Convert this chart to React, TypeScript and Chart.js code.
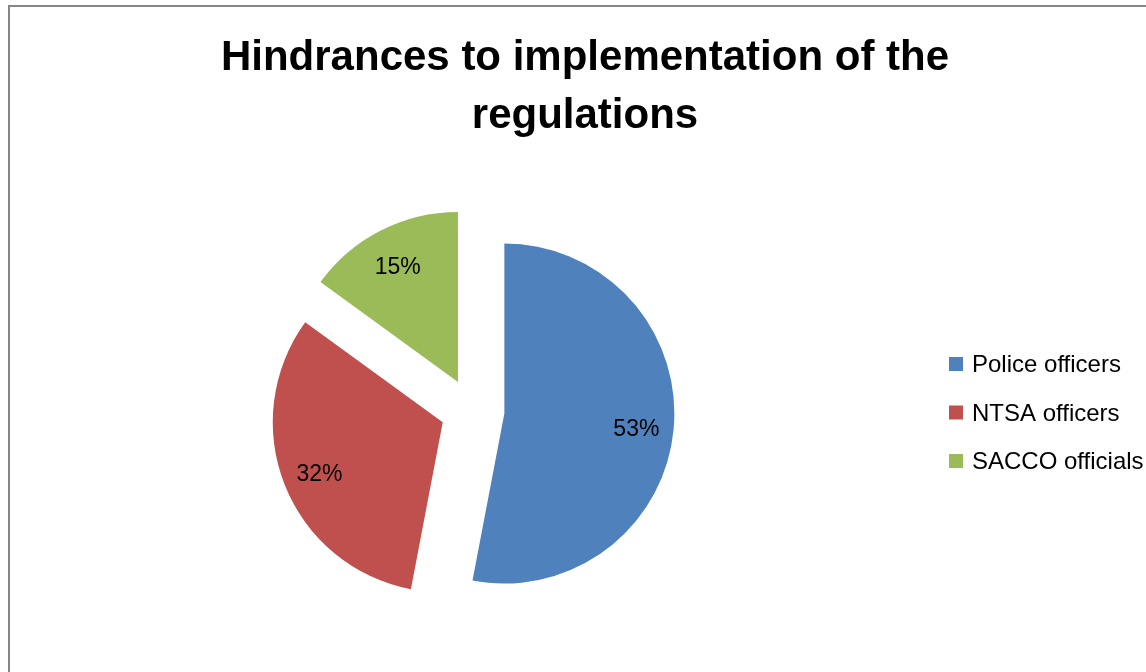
import React, { useEffect, useRef } from "react";
import { Chart, registerables } from "chart.js";

Chart.register(...registerables);

const titleLines = ["Hindrances to implementation of the", "regulations"];
const categories = ["Police officers", "NTSA officers", "SACCO officials"];
const shares = [53, 32, 15];
const sliceColors = ["#4F81BD", "#C0504D", "#9BBB59"];

const EXPLODE = 32;
const FONT = "'Liberation Sans', Arial, sans-serif";

// Explode every slice outward along its own mid angle (Excel-style exploded pie)
const explodePlugin = {
  id: "explode",
  afterDatasetsUpdate(chart: any) {
    const meta = chart.getDatasetMeta(0);
    meta.data.forEach((arc: any) => {
      const mid = (arc.startAngle + arc.endAngle) / 2;
      arc.x += Math.cos(mid) * EXPLODE;
      arc.y += Math.sin(mid) * EXPLODE;
    });
  },
};

const overlayPlugin = {
  id: "overlay",
  afterDraw(chart: any) {
    const ctx = chart.ctx as CanvasRenderingContext2D;
    const meta = chart.getDatasetMeta(0);
    const total = shares.reduce((a, b) => a + b, 0);
    ctx.save();
    // data labels
    ctx.fillStyle = "#000";
    ctx.font = `23px ${FONT}`;
    ctx.textAlign = "center";
    ctx.textBaseline = "middle";
    meta.data.forEach((arc: any, i: number) => {
      const mid = (arc.startAngle + arc.endAngle) / 2;
      const d = arc.outerRadius * 0.78;
      const lx = arc.x + Math.cos(mid) * d;
      const ly = arc.y + Math.sin(mid) * d + 4;
      ctx.fillText(Math.round((shares[i] / total) * 100) + "%", lx, ly);
    });
    // title
    ctx.font = `bold 42px ${FONT}`;
    ctx.textBaseline = "alphabetic";
    ctx.textAlign = "center";
    titleLines.forEach((t, i) => ctx.fillText(t, 585, 70 + i * 58));
    // legend
    ctx.font = `24px ${FONT}`;
    ctx.textAlign = "left";
    ctx.textBaseline = "alphabetic";
    categories.forEach((c, i) => {
      const y = 357 + i * 48.5;
      ctx.fillStyle = sliceColors[i];
      ctx.fillRect(949, y, 14, 14);
      ctx.fillStyle = "#000";
      ctx.fillText(c, 972, y + 15);
    });
    ctx.restore();
  },
};

export default function App() {
  const ref = useRef<HTMLCanvasElement>(null);
  useEffect(() => {
    if (!ref.current) return;
    const chart = new Chart(ref.current, {
      type: "pie",
      data: {
        labels: categories,
        datasets: [
          {
            data: shares,
            backgroundColor: sliceColors,
            borderWidth: 0,
          },
        ],
      },
      options: {
        responsive: false,
        animation: false,
        radius: 170,
        layout: { padding: { left: 0, right: 201, top: 149, bottom: 0 } },
        plugins: {
          legend: { display: false },
          title: { display: false },
          tooltip: { enabled: false },
        },
      } as any,
      plugins: [explodePlugin, overlayPlugin],
    });
    return () => chart.destroy();
  }, []);
  return (
    <div style={{ position: "fixed", left: 0, top: 0, width: 1146, height: 672, overflow: "hidden", background: "#fff" }}>
      <div
        style={{
          position: "absolute",
          left: 8,
          top: 5,
          width: 1300,
          height: 800,
          borderLeft: "2px solid #868686",
          borderTop: "2px solid #868686",
        }}
      />
      <canvas ref={ref} width={1146} height={672} style={{ position: "absolute", left: 0, top: 0 }} />
    </div>
  );
}
